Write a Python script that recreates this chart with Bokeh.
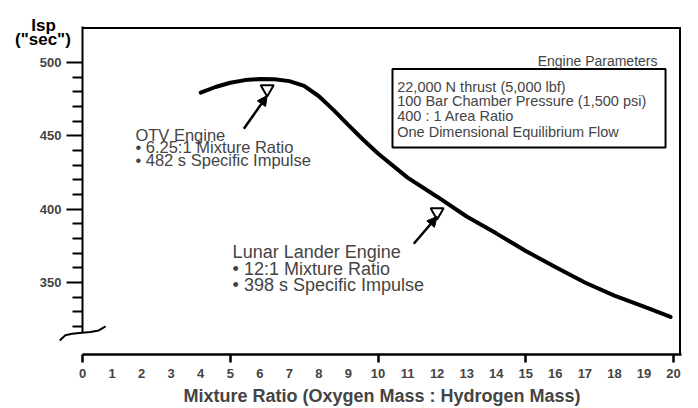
from bokeh.plotting import figure
from bokeh.models import (Range1d, FixedTicker, Label, Arrow,
                          NormalHead, BoxAnnotation)
from bokeh.core.properties import value
from bokeh.embed import file_html
from bokeh.resources import INLINE

# ---- data ----
mixture_ratio = [4, 4.5, 5, 5.5, 6, 6.5, 7, 7.5, 8, 8.5, 9, 9.5, 10,
                 11, 12, 13, 14, 15, 16, 17, 18, 19, 19.9]
isp_sec = [479.5, 483.3, 486.2, 488.0, 488.7, 488.6, 487.3, 484.0, 477.0,
           467.5, 457.3, 447.3, 438.0, 421.5, 408.5, 395.0, 383.5, 371.5,
           360.5, 350.0, 341.0, 333.5, 326.5]

engine_names = ["OTV Engine", "Lunar Lander Engine"]
engine_ratio = [6.25, 12]
engine_isp = [482, 398]

x_tick_values = list(range(0, 21))
x_major_marks = [0, 5, 10, 15, 20]
y_tick_values = [350, 400, 450, 500]
y_minor_values = [320, 330, 340, 360, 370, 380, 390, 410, 420, 430, 440,
                  460, 470, 480, 490]

param_title = "Engine Parameters"
param_lines = ["22,000 N thrust (5,000 lbf)",
               "100 Bar Chamber Pressure (1,500 psi)",
               "400 : 1 Area Ratio",
               "One Dimensional Equilibrium Flow"]

otv_lines = ["OTV Engine", "\u2022 6.25:1 Mixture Ratio", "\u2022 482 s Specific Impulse"]
lunar_lines = ["Lunar Lander Engine", "\u2022 12:1 Mixture Ratio", "\u2022 398 s Specific Impulse"]
y_title_lines = ["Isp", '("sec")']

FONT = "Liberation Sans"
W, H = 698, 408
X0, X1 = 0, 20.27
Y0, Y1 = 300.9, 524.55
Y_BREAK = 316

p = figure(width=W, height=H,
           x_range=Range1d(X0, X1), y_range=Range1d(Y0, Y1),
           output_backend="svg", toolbar_location=None,
           min_border_left=82, min_border_right=17,
           min_border_top=26, min_border_bottom=54,
           x_axis_label="Mixture Ratio (Oxygen Mass : Hydrogen Mass)")
p.outline_line_color = None
p.xgrid.visible = False
p.ygrid.visible = False
p.background_fill_color = "white"
p.border_fill_color = "white"

# x axis
xa = p.xaxis[0]
xa.ticker = FixedTicker(ticks=x_tick_values, minor_ticks=x_major_marks)
xa.axis_line_width = 2.5
xa.major_tick_out = 0
xa.major_tick_in = 0
xa.minor_tick_out = 8
xa.minor_tick_in = 0
xa.minor_tick_line_width = 2.5
xa.major_label_standoff = 6
xa.major_label_text_font = FONT
xa.major_label_text_font_style = "bold"
xa.major_label_text_font_size = "13px"
xa.axis_label_text_font = FONT
xa.axis_label_text_font_style = "bold"
xa.axis_label_text_font_size = "18px"
xa.axis_label_standoff = 5

# y axis
ya = p.yaxis[0]
ya.ticker = FixedTicker(ticks=y_tick_values, minor_ticks=y_minor_values)
ya.bounds = (Y_BREAK, Y1)
ya.axis_line_width = 2
ya.major_tick_out = 16
ya.major_tick_in = 0
ya.major_tick_line_width = 2
ya.minor_tick_out = 10
ya.minor_tick_in = 0
ya.minor_tick_line_width = 2
ya.major_label_standoff = 5
ya.major_label_text_font = FONT
ya.major_label_text_font_style = "bold"
ya.major_label_text_font_size = "13px"

# top and right borders, kept just inside the frame
in_x, in_y = 0.05, 1.0
p.line([X0, X1 - in_x, X1 - in_x], [Y1 - in_y, Y1 - in_y, Y0],
       line_color="black", line_width=2, line_join="miter")

# axis-break squiggle
brk_x = [-0.77, -0.58, -0.35, -0.01, 0.27, 0.55, 0.78]
brk_y = [310.5, 314.0, 315.1, 315.8, 316.2, 317.3, 320.0]
p.line(brk_x, brk_y, line_color="black", line_width=2, level="overlay")

# curve
p.line(mixture_ratio, isp_sec, line_width=4, line_color="black", line_cap="round")

# arrows to design points
arrow_tail_x = [5.46, 11.21]
arrow_tail_y = [454.8, 376.4]
arrow_head_y = [477.5, 395.0]
for i in range(2):
    p.add_layout(Arrow(end=NormalHead(size=10, fill_color="black", line_color="black", line_width=1),
                       x_start=arrow_tail_x[i], y_start=arrow_tail_y[i],
                       x_end=engine_ratio[i], y_end=arrow_head_y[i],
                       line_width=2.5, line_color="black"))

p.scatter(engine_ratio, engine_isp, marker="inverted_triangle", size=13,
          fill_color="white", line_color="black", line_width=2)

# annotation texts
otv_y = [450.9, 442.25, 433.2]
for t, yy in zip(otv_lines, otv_y):
    p.add_layout(Label(x=1.79, y=yy, text=t, text_font=FONT, text_font_size="16.5px",
                       text_baseline="alphabetic"))
lunar_y = [370.5, 359.2, 348.0]
for t, yy in zip(lunar_lines, lunar_y):
    p.add_layout(Label(x=5.08, y=yy, text=t, text_font=FONT, text_font_size="18px",
                       text_baseline="alphabetic"))

# parameters box
p.add_layout(BoxAnnotation(left=10.49, right=19.73, bottom=442.0, top=495.6,
                           fill_color=None, line_color="black", line_width=2,
                           line_alpha=1))
p.add_layout(Label(x=17.43, y=500.9, text=param_title, text_font=FONT,
                   text_font_size="14px", text_align="center",
                   text_baseline="alphabetic"))
param_y = [483.6, 473.6, 463.2, 452.6]
for t, yy in zip(param_lines, param_y):
    p.add_layout(Label(x=10.65, y=yy, text=t, text_font=FONT, text_font_size="14.5px",
                       text_baseline="alphabetic"))

# y axis title, outside the frame (overlay level so it is not clipped)
p.text(x=[-1.32, -1.34], y=[525.2, 515.6], text=y_title_lines,
       text_font=value(FONT), text_font_size="17px", text_font_style="bold",
       text_align="center", text_baseline="alphabetic", text_color="black",
       level="overlay")

open("out.html", "w").write(file_html(p, INLINE))
